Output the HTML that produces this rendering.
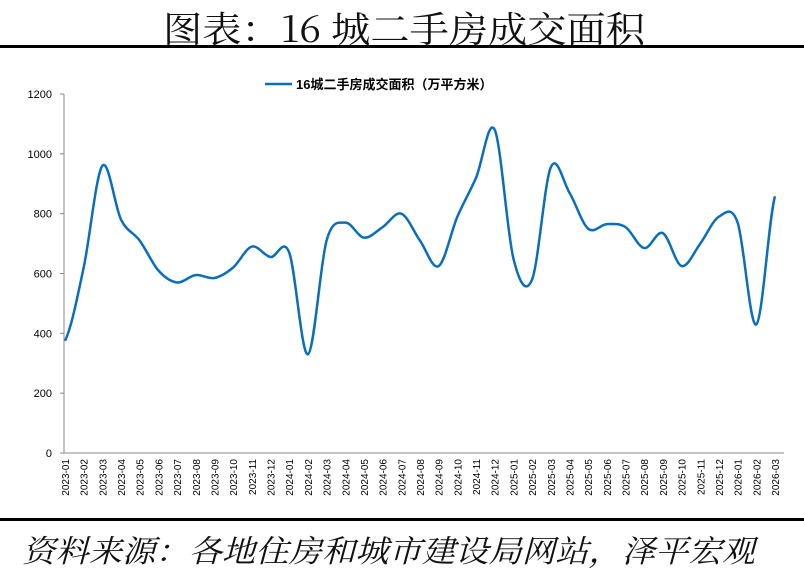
<!DOCTYPE html>
<html><head><meta charset="utf-8"><style>
body{margin:0;background:#fff;}
svg{display:block;}
</style></head><body>
<svg id="s" width="804" height="579" xmlns="http://www.w3.org/2000/svg">
<rect width="804" height="579" fill="#fff"/>
<text x="163" y="42" textLength="482" lengthAdjust="spacingAndGlyphs" font-family="Noto Serif CJK SC, Liberation Serif, serif" font-size="36" fill="#111">图表：16 城二手房成交面积</text>
<rect x="0" y="45" width="804" height="3" fill="#000"/>
<rect x="0" y="518" width="804" height="3" fill="#000"/>
<text x="22" y="562" textLength="733" lengthAdjust="spacingAndGlyphs" font-family="Noto Serif CJK SC, serif" font-style="italic" font-size="31" fill="#111">资料来源：各地住房和城市建设局网站，泽平宏观</text>
<line x1="265" y1="84" x2="292" y2="84" stroke="#0a6ebd" stroke-width="2.5"/>
<text x="296" y="89" font-family="Liberation Sans, Noto Sans CJK SC, sans-serif" font-weight="bold" font-size="13" fill="#000">16城二手房成交面积（万平方米）</text>
<g id="ax"></g>
<path id="ln" fill="none" stroke="#0a6ebd" stroke-width="2.5"/>
</svg>
<script>
var d=[375,620,960,780,710,610,570,595,585,620,690,655,670,330,710,770,720,755,800,710,625,790,920,1080,650,580,955,870,750,765,755,685,735,625,700,790,770,430,858];
var x0=65,dx=(775-65)/38,y0=453,sy=359/1200;
function X(i){return x0+i*dx}function Y(v){return y0-v*sy}
var ax=document.getElementById('ax'),h='';
h+='<line x1="64" y1="94" x2="64" y2="453" stroke="#888" stroke-width="1"/>';
h+='<line x1="64" y1="453" x2="784" y2="453" stroke="#888" stroke-width="1"/>';
for(var v=0;v<=1200;v+=200){var y=Y(v);h+='<line x1="60" y1="'+y+'" x2="64" y2="'+y+'" stroke="#888"/>';h+='<text x="52" y="'+(y+4)+'" text-anchor="end" font-family="Liberation Sans,sans-serif" font-size="11">'+v+'</text>';}
for(var i=0;i<39;i++){var yr=2023+Math.floor(i/12),m=i%12+1;var lb=yr+'-'+(m<10?'0':'')+m;var x=X(i);
h+='<text transform="translate('+(x+4)+',459) rotate(-90)" text-anchor="end" font-family="Liberation Sans,sans-serif" font-size="10">'+lb+'</text>';}
ax.innerHTML=h;
var p='M'+X(0)+','+Y(d[0]);
var t=1/6;
for(var i=0;i<38;i++){var a=d[Math.max(i-1,0)],b=d[i],c=d[i+1],e=d[Math.min(i+2,38)];
var c1y=Y(b+(c-a)*t);if(i==0)c1y=Y(b+(c-b)*t);
var c2y=Y(c-(e-b)*t);if(i==37)c2y=Y(c-(c-b)*t);
var c1x=X(i)+dx/3,c2x=X(i+1)-dx/3;
p+=' C'+c1x+','+c1y+' '+c2x+','+c2y+' '+X(i+1)+','+Y(c);}
document.getElementById('ln').setAttribute('d',p);
</script>
</body></html>
